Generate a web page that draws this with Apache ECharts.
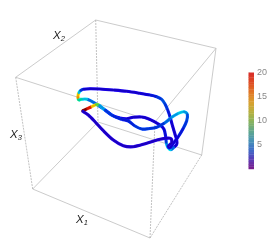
<!DOCTYPE html>
<html><head><meta charset="utf-8">
<style>html,body{margin:0;padding:0;background:#fff}#c{width:270px;height:243px}</style>
<script src="https://cdn.jsdelivr.net/npm/echarts@6/dist/echarts.min.js"></script>
</head><body><div id="c"></div>
<script>
// box corners
const A=[95.7,20],B=[216,48.3],C=[15.7,77.3],D=[32.7,189],E=[150,238],F=[201.7,155],X=[98,122],Y=[155,122];
const boxEdges=[[A,B],[A,C],[D,E],[F,B],[C,Y],[B,Y],[D,X],[F,X]];
const boxDashedEdges=[[C,D],[A,X],[E,Y],[E,F]];
// tube trajectory: picture position (x, y), colour value, and which stretch it belongs to
const tubeX=[78.7,78,78,78.7,80.3,83.3,90,100,113.3,126.7,140,150,156.7,161.7,165,167.7,170,172.3,174.7,176.7,176.7,174,171,168,166.3,165.7,164,160,155,148.3,141.7,133.3,126.7,120,111.7,103.3,95,87.3,81.7,78.7,82.3,87.3,91.7,96,99.3,105,113.3,121.7,128.3,135,141.7,148.3,156.7,165,171.7,178.3,184,187.3,186.7,183.3,178.3,173.3,170,168.3,171.7,170,160,146.7,133.3,123.3,113.3,103.3,95,88.3,83.3,82.3];
const tubeY=[100.3,98,95.7,93,90.7,89.3,88.7,89,90,91.3,93.3,95,96.7,99.3,104,110,116.7,125,133.3,140,144.3,147.3,149.7,147.7,142.7,136.7,129.3,125,122,118.7,117,117.3,118.7,118,115,108.7,103.3,99.3,99.3,100.3,111,108.7,106.7,104.7,105.3,110,116,119.3,121,126,129,128.7,127.3,122.7,117.3,113.3,111.7,114.3,120.7,128.3,136.7,143.3,147.7,146,142.7,138.3,139.3,143.3,146.7,145.7,140,130.7,121.7,115,111.7,111];
const tubeValue=[11,16,15,8,5,3,2.5,2.5,2.5,2.5,3,4,5,5.5,5,4,3,2.5,2.5,2.5,3,6,8,7,5,3.5,3,2.5,2.5,2.5,2.5,2.5,2.5,3,4,5,6,8,10,12,20,18,15,12,7,5,4.5,4,4.5,5,5,5,5,6,7,8,7,5.5,5,4,3,3,2.5,2,2,2,2,2,2,2,2,2,2,2,2,2];
const tubeRun=[0,0,0,0,0,0,0,0,0,0,0,0,0,0,0,0,0,0,0,0,0,0,0,0,0,0,0,0,0,0,0,0,0,0,0,0,0,0,0,0,1,1,1,1,1,1,1,1,1,1,1,1,1,1,1,1,1,1,1,1,1,1,1,1,1,1,1,1,1,1,1,1,1,1,1,1];
const tubeColors=['#2a00b0','#1000c8','#0028d0','#0088e0','#00d0e0','#00d080','#70d020','#e0d800','#f08000','#d81000','#800000'];
const barColors=['#7a1d8c','#5a3fb8','#3f6fc8','#4a95b4','#62a88a','#8ab35c','#b8b03e','#d9a030','#e07a28','#de4f24','#d9302a'];
const barValues=[0.5,1,1.5,2,2.5,3,3.5,4,4.5,5,5.5,6,6.5,7,7.5,8,8.5,9,9.5,10,10.5,11,11.5,12,12.5,13,13.5,14,14.5,15,15.5,16,16.5,17,17.5,18,18.5,19,19.5,20];
const tickValues=[5,10,15,20];
const minorValues=[1,2,3,4,5,6,7,8,9,10,11,12,13,14,15,16,17,18,19,20];
const axisNames=[{t:'X',s:'1',x:76,y:214},{t:'X',s:'2',x:53,y:30},{t:'X',s:'3',x:10,y:129}];

const toLine=e=>{const r=[];e.forEach(s=>r.push(s[0],s[1],[null,null]));return r;};
const pt=(i,run)=>(i>=0&&i<tubeX.length&&tubeRun[i]===run)?i:null;
const tubeData=[];
tubeX.forEach((x,i)=>{const r=tubeRun[i],n=pt(i+1,r);if(n===null)return;
 const p=pt(i-1,r)??i,nn=pt(i+2,r)??n;
 tubeData.push([x,tubeY[i],tubeValue[i],tubeX[n],tubeY[n],tubeX[p],tubeY[p],tubeX[nn],tubeY[nn]]);});
const chart=echarts.init(document.getElementById('c'),null,{renderer:'canvas'});
chart.setOption({
 animation:false,
 backgroundColor:'#fff',
 grid:[{left:0,top:0,width:270,height:243},{left:248.5,top:72.5,width:6.5,height:94.5}],
 xAxis:[{type:'value',min:0,max:270,show:false,gridIndex:0},{type:'value',min:0,max:1,show:false,gridIndex:1}],
 yAxis:[{type:'value',min:0,max:243,inverse:true,show:false,gridIndex:0},
  {type:'value',min:0.4,max:20,position:'right',gridIndex:1,
   axisLine:{show:false},splitLine:{show:false},
   axisTick:{show:true,length:1.5,inside:false,customValues:minorValues,lineStyle:{color:'#ccc',width:0.5}},
   axisLabel:{show:true,margin:3,fontSize:9,color:'#888',fontFamily:'Liberation Sans',customValues:tickValues}}],
 visualMap:[
  {type:'continuous',show:false,min:1,max:20,dimension:2,seriesIndex:2,inRange:{color:tubeColors}},
  {type:'continuous',show:false,min:0.4,max:20,dimension:1,seriesIndex:3,inRange:{color:barColors}}
 ],
 graphic:axisNames.map(a=>({type:'text',left:a.x,top:a.y,style:{rich:{b:{font:'italic 11.5px Liberation Sans',fill:'#222'},s:{font:'italic 7.5px Liberation Sans',fill:'#222',verticalAlign:'bottom',padding:[6,0,0,0]}},text:'{b|'+a.t+'}{s|'+a.s+'}'}})),
 series:[
  {type:'line',xAxisIndex:0,yAxisIndex:0,data:toLine(boxEdges),showSymbol:false,silent:true,lineStyle:{color:'#b4b4b4',width:0.7},z:1},
  {type:'line',xAxisIndex:0,yAxisIndex:0,data:toLine(boxDashedEdges),showSymbol:false,silent:true,lineStyle:{color:'#a8a8a8',width:0.7,type:[2,1]},z:1},
  {type:'custom',xAxisIndex:0,yAxisIndex:0,data:tubeData,dimensions:['x','y','c','nx','ny','px','py','nnx','nny'],encode:{x:0,y:1},z:2,silent:true,
   renderItem:(p,api)=>{const v=i=>api.value(i);
    const a=api.coord([v(0),v(1)]),b=api.coord([v(3),v(4)]),q=api.coord([v(5),v(6)]),r=api.coord([v(7),v(8)]);
    const shape={x1:a[0],y1:a[1],x2:b[0],y2:b[1],cpx1:a[0]+(b[0]-q[0])/6,cpy1:a[1]+(b[1]-q[1])/6,cpx2:b[0]-(r[0]-a[0])/6,cpy2:b[1]-(r[1]-a[1])/6};
    const col=api.visual('color');
    return {type:'group',children:[
     {type:'bezierCurve',shape,style:{stroke:echarts.color.lift(col,-0.3),fill:null,lineWidth:3.1,lineCap:'butt'}},
     {type:'bezierCurve',shape,style:{stroke:col,fill:null,lineWidth:2,lineCap:'round'}}]};}},
  {type:'custom',xAxisIndex:1,yAxisIndex:1,data:barValues.map(v=>[0,v]),encode:{x:0,y:1},z:2,silent:true,
   renderItem:(p,api)=>{const t=api.coord([0,api.value(1)]),b=api.coord([1,api.value(1)-0.5]);
    return {type:'rect',shape:{x:t[0],y:t[1],width:b[0]-t[0],height:b[1]-t[1]+0.3},style:{fill:api.visual('color')}};}}
 ]
});
</script></body></html>
